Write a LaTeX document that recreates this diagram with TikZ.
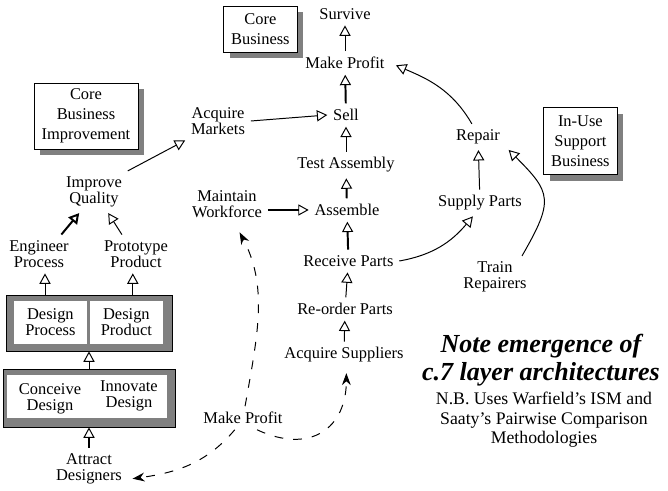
\documentclass[tikz,border=0pt]{standalone}
\usepackage{fontspec}
\setmainfont{Liberation Serif}
\usetikzlibrary{arrows.meta,shadows}

\tikzset{
  lbl/.style={font=\fontsize{11.7}{11.4}\selectfont, align=center, inner sep=4pt},
  bizbox/.style={draw=black, fill=white, line width=0.6pt, align=center,
    font=\fontsize{11.7}{14.2}\selectfont,
    drop shadow={shadow xshift=0.16cm, shadow yshift=-0.16cm, fill=gray, opacity=1}},
  grayframe/.style={draw=black, fill=gray, line width=0.6pt},
  pane/.style={fill=white, inner sep=0pt, align=center, font=\fontsize{11.7}{11.4}\selectfont},
  link/.style={-{Triangle[open, length=0.26cm, width=0.28cm, line width=0.7pt]}, line width=0.7pt},
  heavylink/.style={link, line width=1.4pt},
  boldlink/.style={-{Triangle[open, length=0.26cm, width=0.28cm]}, line width=1.4pt},
  dashlink/.style={dash pattern=on 0.22cm off 0.25cm, line width=0.7pt,
    -{Stealth[length=0.3cm, width=0.22cm]}, shorten >=0.12cm},
}

\begin{document}
\begin{tikzpicture}

  \useasboundingbox (0,0) rectangle (16.7,12.275);

  % ══ BUSINESS BOXES ════════════════════════════════════════════
  \node[bizbox, minimum width=1.83cm, minimum height=1.15cm] (corebiz) at (6.51, 11.55)
    {Core\\Business};
  \node[bizbox, minimum width=2.6cm, minimum height=1.65cm] (improvebiz) at (2.15, 9.375)
    {Core\\Business\\Improvement};
  \node[bizbox, minimum width=1.83cm, minimum height=1.675cm] (supportbiz) at (14.51, 8.74)
    {In-Use\\Support\\Business};

  % ══ CORE CHAIN ════════════════════════════════════════════════
  \node[lbl] (survive)   at (8.625, 11.925) {Survive};
  \node[lbl] (profit)    at (8.625, 10.70)  {Make Profit};
  \node[lbl] (sell)      at (8.65,  9.40)   {Sell};
  \node[lbl] (test)      at (8.65,  8.15)   {Test Assembly};
  \node[lbl] (assemble)  at (8.675, 7.025)  {Assemble};
  \node[lbl] (receive)   at (8.71,  5.75)   {Receive Parts};
  \node[lbl] (reorder)   at (8.625, 4.55)   {Re-order Parts};
  \node[lbl] (suppliers) at (8.60,  3.40)   {Acquire Suppliers};

  \node[lbl] (markets)   at (5.45,  9.25)   {Acquire\\Markets};
  \node[lbl] (workforce) at (5.675, 7.175)  {Maintain\\Workforce};
  \node[lbl] (profitb)   at (6.075, 1.825)  {Make Profit};

  % ══ IMPROVEMENT SIDE ══════════════════════════════════════════
  \node[lbl] (quality)   at (2.35,  7.475)  {Improve\\Quality};
  \node[lbl] (engineer)  at (0.975, 5.925)  {Engineer\\Process};
  \node[lbl] (prototype) at (3.40,  5.925)  {Prototype\\Product};

  \node[grayframe, minimum width=4.15cm, minimum height=1.4cm] (upper) at (2.225, 4.20) {};
  \node[pane, minimum width=1.83cm, minimum height=1.08cm] (dprocess) at (1.26, 4.21)
    {Design\\Process};
  \node[pane, minimum width=1.83cm, minimum height=1.08cm] (dproduct) at (3.16, 4.21)
    {Design\\Product};

  \node[grayframe, minimum width=4.3cm, minimum height=1.45cm] (lower) at (2.225, 2.325) {};
  \node[pane, minimum width=4.0cm, minimum height=1.075cm] (lowerpane) at (2.175, 2.3625) {};
  \node[lbl] (conceive)  at (1.25,  2.30)   {Conceive\\Design};
  \node[lbl] (innovate)  at (3.225, 2.375)  {Innovate\\Design};

  \node[lbl] (designers) at (2.225, 0.55)   {Attract\\Designers};

  % ══ SUPPORT SIDE ══════════════════════════════════════════════
  \node[lbl] (repair)    at (11.95, 8.85)   {Repair};
  \node[lbl] (supply)    at (12.0,  7.20)   {Supply Parts};
  \node[lbl] (train)     at (12.375, 5.35)  {Train\\Repairers};

  % ══ NOTE ══════════════════════════════════════════════════════
  \node[align=center, font=\fontsize{18.5}{19.9}\selectfont\bfseries\itshape] (note)
    at (13.525, 3.275) {Note emergence of\\c.7 layer architectures};
  \node[align=center, font=\fontsize{12.6}{14}\selectfont] (nb)
    at (13.6, 1.775) {N.B. Uses Warfield’s ISM and\\Saaty’s Pairwise Comparison\\Methodologies};

  % ══ ARROWS: core chain ════════════════════════════════════════
  \draw[link]      (profit) -- (survive);
  \draw[heavylink] (sell) -- (profit);
  \draw[link]      (test) -- (sell);
  \draw[heavylink] (assemble) -- (test);
  \draw[heavylink] (receive) -- (assemble);
  \draw[link]      (reorder) -- (receive);
  \draw[link]      (suppliers) -- (reorder);
  \draw[link]      (markets.east) -- (sell.west);
  \draw[heavylink] (workforce.east |- assemble) -- (assemble.west);

  % ══ ARROWS: improvement side ══════════════════════════════════
  \draw[link]      (quality.north east) -- (markets.south west);
  \draw[boldlink]  (engineer.41) -- (quality.235);
  \draw[link]      (prototype.126) -- (quality.-56);
  \draw[link]      ([xshift=0.15cm]upper.north -| engineer.south) -- ([xshift=0.15cm]engineer.south);
  \draw[link]      ([xshift=-0.08cm]upper.north -| prototype.south) -- ([xshift=-0.08cm]prototype.south);
  \draw[link]      (lower) -- (upper);
  \draw[heavylink] (designers) -- (lower);

  % ══ ARROWS: support side ══════════════════════════════════════
  \draw[link, shorten >=0.15cm] (repair.115) to[out=120, in=-23] (profit.east);
  \draw[link]      (supply) -- (repair);
  \draw[link]      (receive.east) to[out=10, in=-130] (supply.242);
  \draw[link, shorten >=0.1cm] (train.38) to[out=60, in=-45, looseness=1.5] (repair.-20);

  % ══ DASHED: profit feeds back ═════════════════════════════════
  \draw[dashlink, shorten >=0.25cm] (profitb.80) to[out=80, in=-62] (workforce.-68);
  \draw[dashlink]  (profitb.235) to[out=230, in=8] (designers.-15);
  \draw[dashlink]  (profitb.-40) to[out=-25, in=-90, looseness=1.4] (suppliers.-80);

\end{tikzpicture}
\end{document}
